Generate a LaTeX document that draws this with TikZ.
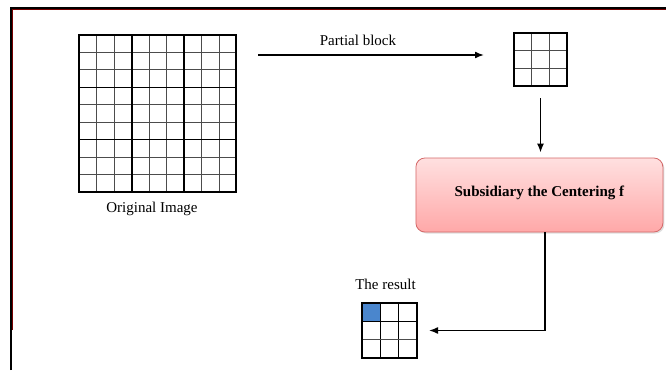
\documentclass[tikz,border=0pt]{standalone}
\usepackage{fontspec}
\setmainfont{Liberation Serif}
\usetikzlibrary{positioning,arrows.meta,shadows}
\definecolor{boxtop}{RGB}{255,224,224}
\definecolor{boxbottom}{RGB}{255,168,168}
\definecolor{boxline}{RGB}{212,104,104}
\definecolor{cellblue}{RGB}{74,134,205}
\definecolor{framered}{RGB}{150,0,0}

\begin{document}
\begin{tikzpicture}[x=1pt,y=-1pt,
    font=\fontsize{15}{18}\selectfont,
    gridbox/.style={draw, line width=2pt, inner sep=0pt, minimum size=#1},
    thinline/.style={gray!60!black, line width=1pt},
    blockline/.style={black, line width=1.6pt},
    centrebox/.style={draw=boxline, line width=0.8pt, rounded corners=9pt,
        top color=boxtop, bottom color=boxbottom,
        drop shadow={shadow xshift=1.5pt, shadow yshift=-1.5pt, opacity=0.25},
        minimum width=247pt, minimum height=74pt, font=\fontsize{15}{18}\selectfont\bfseries},
    arrow/.style={-{Latex[length=9pt,width=7pt]}, line width=1.6pt}]
    \useasboundingbox (0,0) rectangle (666,370);
    % Parameters
    \def\ox{79.5}   % original image, left
    \def\oy{35}     % original image, top
    \def\oc{17.44}  % original image, cell size
    \def\bx{514}    % partial block, left
    \def\by{33}     % partial block, top
    \def\bc{17.67}  % partial block, cell size
    \def\rx{362}    % result, left
    \def\ry{303}    % result, top
    \def\rc{18.33}  % result, cell size
    % Frame
    \draw[line width=1.8pt] (11,370) -- (11,8) -- (666,8);
    \draw[framered!80!black, line width=0.6pt] (12.6,330) -- (12.6,9.4) -- (666,9.4);
    % Original image
    \foreach \i in {1,2,4,5,7,8} {
        \draw[thinline] (\ox+\i*\oc,\oy) -- (\ox+\i*\oc,\oy+9*\oc);
        \draw[thinline] (\ox,\oy+\i*\oc) -- (\ox+9*\oc,\oy+\i*\oc);
    }
    \foreach \i in {3,6} {
        \draw[blockline] (\ox+\i*\oc,\oy) -- (\ox+\i*\oc,\oy+9*\oc);
        \draw[blockline] (\ox,\oy+\i*\oc) -- (\ox+9*\oc,\oy+\i*\oc);
    }
    \node[gridbox=157pt] (orig) at (\ox+4.5*\oc,\oy+4.5*\oc) {};
    \node[below=6pt of orig, xshift=-6pt] (origlabel) {Original Image};
    % Partial block
    \foreach \i in {1,2} {
        \draw[thinline, line width=1.2pt] (\bx+\i*\bc,\by) -- (\bx+\i*\bc,\by+3*\bc);
        \draw[thinline, line width=1.2pt] (\bx,\by+\i*\bc) -- (\bx+3*\bc,\by+\i*\bc);
    }
    \node[gridbox=53pt] (block) at (\bx+1.5*\bc,\by+1.5*\bc) {};
    % Result
    \fill[cellblue] (\rx,\ry) rectangle (\rx+\rc,\ry+\rc);
    \foreach \i in {1,2} {
        \draw[line width=1.2pt] (\rx+\i*\rc,\ry) -- (\rx+\i*\rc,\ry+3*\rc);
    }
    \draw[line width=1.2pt] (\rx,\ry+\rc) -- (\rx+3*\rc,\ry+\rc);
    \draw[thinline, line width=1.4pt] (\rx,\ry+2*\rc) -- (\rx+3*\rc,\ry+2*\rc);
    \node[gridbox=55pt] (result) at (\rx+1.5*\rc,\ry+1.5*\rc) {};
    \node[above=9pt of result, xshift=-4pt] (resultlabel) {The result};
    % Centering step
    \node[centrebox] (centre) at (539.4,195) {\raisebox{7pt}{Subsidiary the Centering f}};
    % Arrows
    \coordinate (from) at (258,55);
    \coordinate (to) at (484,55);
    \draw[arrow] (from) -- (to) node[midway, above=5pt, xshift=-13pt] (blocklabel) {Partial block};
    \draw[arrow, shorten <=11pt, shorten >=5pt] (block.south) -- (block.south |- centre.north);
    \draw[arrow, shorten >=11pt] ([xshift=5.5pt]centre.south) |- (result.east);
\end{tikzpicture}
\end{document}
